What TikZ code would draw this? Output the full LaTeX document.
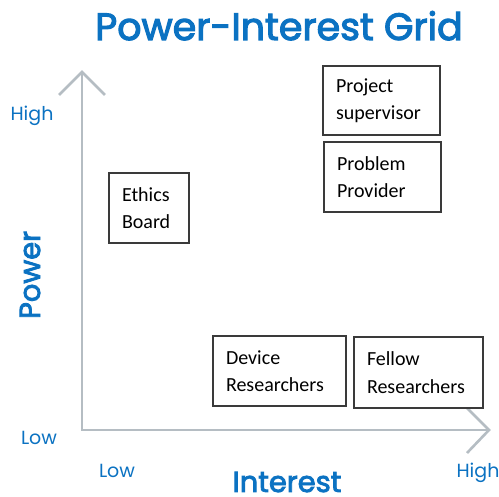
\documentclass[tikz,border=0pt]{standalone}
\usepackage{fontspec}
\setmainfont{Carlito}
\newfontfamily\labelfont{Poppins}
% medium weight: fill and stroke the regular outlines
\newcommand\heavier[2]{\special{pdf:literal direct 2 Tr #1 w}#2\special{pdf:literal direct 0 Tr}}
\definecolor{gridblue}{HTML}{0B72C2}
\definecolor{axisgray}{HTML}{B5BDC3}
\definecolor{boxline}{HTML}{3A3A3A}
\begin{document}
\begin{tikzpicture}[x=1pt,y=1pt,
  stakeholder/.style={draw=boxline, line width=1.1pt, align=left,
    inner xsep=13pt, inner ysep=0pt, anchor=center,
    font=\fontsize{20}{27.5}\selectfont},
  axis/.style={draw=axisgray, line width=2.6pt},
  level/.style={text=gridblue, inner sep=0pt, anchor=base, font=\labelfont\fontsize{19}{19}\selectfont},
  axisname/.style={text=gridblue, inner sep=0pt, anchor=base, font=\labelfont\fontsize{29}{29}\selectfont}]
\useasboundingbox (0,0) rectangle (499,497);
\fill[white] (0,0) rectangle (499,497);

% title
\node[text=gridblue, inner sep=0pt, anchor=base, font=\labelfont\fontsize{38}{38}\selectfont] (title) at (279,457) {\heavier{1.1}{Power-Interest Grid}};

% axes with open chevron heads
\coordinate (origin) at (82,67);
\coordinate (ytop) at (82,425);
\coordinate (xend) at (489,67);
\coordinate (yl) at (59,402);
\coordinate (yr) at (105,402);
\coordinate (xu) at (467,89);
\coordinate (xd) at (467,44);
\draw[axis] (ytop) -- (origin) -- (xend);
\draw[axis, line join=miter] (yl) -- (ytop) -- (yr);
\draw[axis, line join=miter] (xu) -- (xend) -- (xd);

% axis levels and names
\node[level] (phigh) at (32,376) {High};
\node[level] (plow) at (39,52) {Low};
\node[level] (ilow) at (117,19) {Low};
\node[level] (ihigh) at (478,19) {High};
\node[axisname] (iname) at (287,5) {\heavier{0.8}{Interest}};
\node[axisname, rotate=90] (pname) at (40,222) {\heavier{0.8}{Power}};

% stakeholders
\node[stakeholder, minimum width=117pt, minimum height=69pt, text width=91pt] (ps) at (381.5,396.5) {Project\\supervisor};
\node[stakeholder, minimum width=117pt, minimum height=70pt, text width=91pt] (pp) at (382.5,320) {Problem\\Provider};
\node[stakeholder, minimum width=80pt, minimum height=70pt, text width=54pt] (eb) at (149,289) {Ethics\\Board};
\node[stakeholder, minimum width=133pt, minimum height=70pt, text width=107pt] (dr) at (279.5,126) {Device\\Researchers};
\node[stakeholder, minimum width=129pt, minimum height=71pt, text width=103pt] (fr) at (418.5,124.5) {Fellow\\Researchers};
\end{tikzpicture}
\end{document}
